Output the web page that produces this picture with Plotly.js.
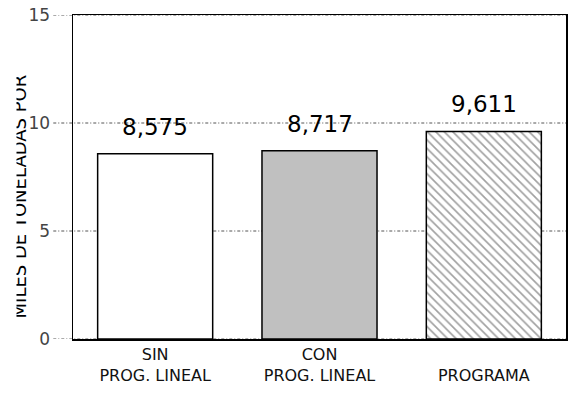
<!DOCTYPE html>
<html>
<head>
<meta charset="utf-8">
<script src="https://cdn.plot.ly/plotly-3.0.1.min.js"></script>
<style>
  html, body { margin: 0; padding: 0; background: #fff; }
  #chart { width: 571px; height: 395px; }
</style>
</head>
<body>
<div id="chart"></div>
<script>
// Categories and values (thousands of tonnes)
const categories = ["SIN<br>PROG. LINEAL", "CON<br>PROG. LINEAL", " <br>PROGRAMA"];
const values = [8.575, 8.717, 9.611];
const valueLabels = ["8,575", "8,717", "9,611"];
const yTicks = [0, 5, 10, 15];
const yTitle = "MILES DE TONELADAS POR";

const FONT = "DejaVu Sans, Verdana, sans-serif";
const xs = [0, 1, 2];

const bars = {
  type: "bar",
  x: xs,
  y: values,
  width: 0.7,
  marker: {
    color: ["#ffffff", "#c0c0c0", "#ffffff"],
    line: { color: "#000", width: 1.5 },
    pattern: {
      shape: ["", "", "\\"],
      fgcolor: ["#ffffff", "#c0c0c0", "#cdcdcd"],
      bgcolor: ["#ffffff", "#c0c0c0", "#ffffff"],
      fillmode: "overlay",
      size: 6,
      solidity: 0.28
    }
  },
  hoverinfo: "skip"
};

// dash-dot reference lines, running out to the tick labels
const gridShapes = yTicks.map(v => ({
  type: "line", layer: "below",
  xref: "paper", yref: "y",
  x0: -0.04, x1: 1, y0: v, y1: v,
  line: { color: "#555", width: 1, dash: "3px,2px,1px,2px" }
}));

const valueNotes = values.map((v, i) => ({
  x: xs[i], y: v, xref: "x", yref: "y",
  text: valueLabels[i], showarrow: false,
  yanchor: "bottom", yshift: 12,
  font: { family: FONT, size: 23, color: "#000" }
}));

const titleNotes = [
  {
    xref: "paper", yref: "paper",
    x: -0.1096, y: 0.44, xanchor: "center", yanchor: "middle",
    text: yTitle, textangle: -90, showarrow: false,
    font: { family: FONT, size: 18, color: "#000" }
  },
  {
    // white band along the page edge
    xref: "paper", yref: "paper",
    x: -0.1136, y: 0.5, xanchor: "right", yanchor: "middle",
    text: " ", showarrow: false,
    width: 20, height: 380, bgcolor: "#ffffff", borderpad: 0
  }
];

const layout = {
  width: 571, height: 395,
  margin: { l: 73, r: 5, t: 15, b: 56 },
  paper_bgcolor: "#fff", plot_bgcolor: "#fff",
  showlegend: false,
  xaxis: {
    range: [-0.5, 2.5],
    tickvals: xs, ticktext: categories,
    ticks: "", showgrid: false, zeroline: false,
    showline: true, mirror: true, linecolor: "#000", linewidth: 1.5,
    tickfont: { family: FONT, size: 16, color: "#111" },
    fixedrange: true
  },
  yaxis: {
    range: [0, 15],
    tickvals: yTicks,
    ticks: "outside", ticklen: 18, tickcolor: "rgba(0,0,0,0)",
    showgrid: false, zeroline: false,
    showline: true, mirror: true, linecolor: "#000", linewidth: 1.5,
    tickfont: { family: FONT, size: 17, color: "#444" },
    fixedrange: true
  },
  shapes: gridShapes,
  annotations: valueNotes.concat(titleNotes)
};

Plotly.newPlot("chart", [bars], layout, { displayModeBar: false, staticPlot: true });
</script>
</body>
</html>
